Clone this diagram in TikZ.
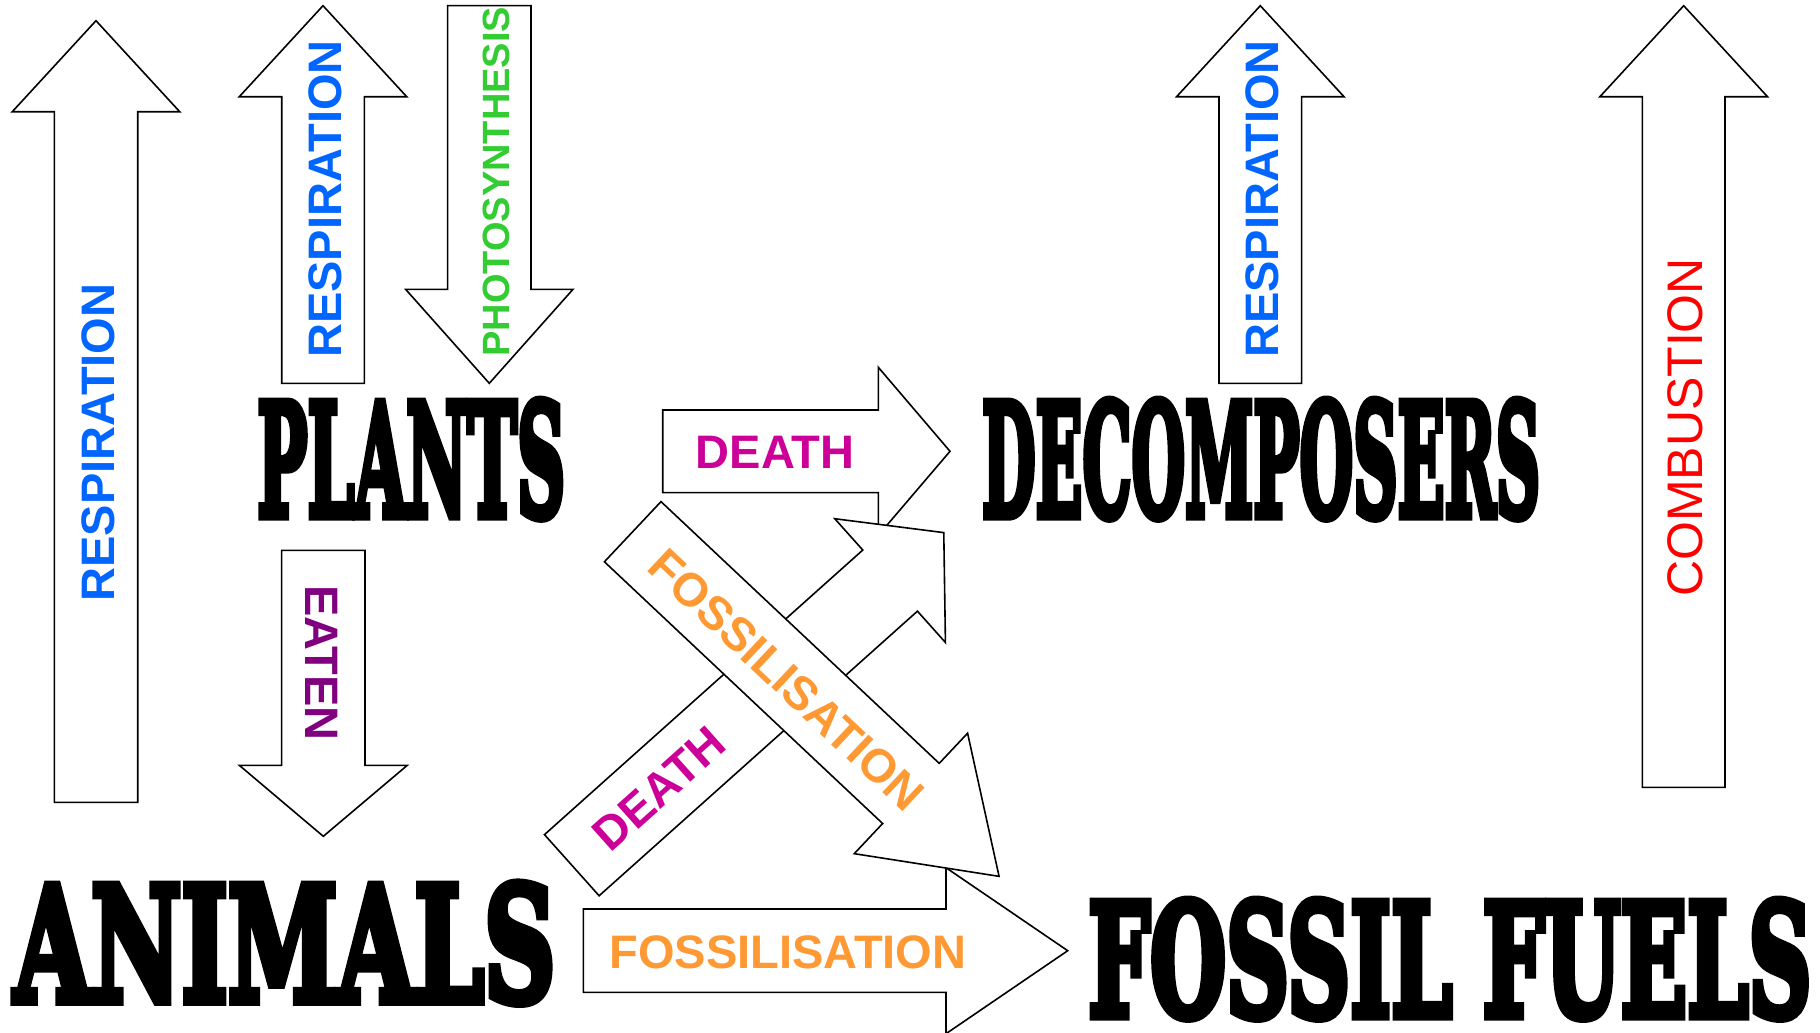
\documentclass[tikz,border=0pt]{standalone}
\usepackage{fontspec}
\setmainfont{Liberation Sans}
\newfontfamily\heavyfont{DejaVu Serif}[BoldFeatures={FakeBold=6}]

\definecolor{respblue}{RGB}{0,102,255}
\definecolor{photogreen}{RGB}{51,204,51}
\definecolor{eatenpurple}{RGB}{128,0,128}
\definecolor{deathpink}{RGB}{204,0,153}
\definecolor{fossilorange}{RGB}{255,153,51}
\definecolor{combred}{RGB}{255,0,0}

\tikzset{
  arrowbox/.style={draw=black, fill=white, line width=1.6pt, miter limit=20},
  proclabel/.style={inner sep=0pt, font=\fontsize{47}{50}\selectfont\bfseries},
  bigword/.style={inner sep=0pt, anchor=north west, font=\heavyfont\bfseries},
}

% tail, angle, shaft length, head length, half shaft, half head
\newcommand{\blockarrow}[6]{%
  \draw[arrowbox, shift={#1}, rotate=#2]
  (0,-#5) -- (#3,-#5) -- (#3,-#6) -- (#3+#4,0) -- (#3,#6) -- (#3,#5) -- (0,#5) -- cycle;
}

\begin{document}
\begin{tikzpicture}[x=1pt, y=-1pt]
  \fill[white] (0,0) rectangle (1820,1033);
  \useasboundingbox (0,0) rectangle (1820,1033);

  \blockarrow{(96,802.3)}{90}{690.6}{91}{41.7}{83.7}
  \blockarrow{(323,383.3)}{90}{286.6}{91}{41.3}{83.7}
  \blockarrow{(489.3,5.7)}{-90}{283.6}{94}{41.7}{83.7}
  \blockarrow{(323.3,550.3)}{-90}{215}{71}{41.7}{84}
  \blockarrow{(1260.3,383.3)}{90}{286.6}{91}{41.3}{83.7}
  \blockarrow{(1683.7,787.3)}{90}{690.6}{91}{41.3}{83.8}
  \blockarrow{(662.7,451.3)}{0}{215.6}{71.7}{41.3}{84}
  \blockarrow{(583.3,950.7)}{0}{362.7}{121.7}{41.7}{83}
  \blockarrow{(571.8,865.2)}{41.8}{427}{72}{41}{83}
  \blockarrow{(632.7,531.7)}{-43.25}{382}{121}{41.3}{82.7}

  \node[proclabel, respblue, rotate=90] (resp1) at (98.5,442.5) {RESPIRATION};
  \node[proclabel, respblue, rotate=90] (resp2) at (325,199) {RESPIRATION};
  \node[proclabel, photogreen, rotate=90, font=\fontsize{38}{40}\selectfont\bfseries] (photo) at (496,181.7) {PHOTOSYNTHESIS};
  \node[proclabel, eatenpurple, rotate=-90] (eaten) at (321.7,663) {EATEN};
  \node[proclabel, respblue, rotate=90] (resp3) at (1262.5,199) {RESPIRATION};
  \node[proclabel, combred, rotate=90, font=\fontsize{50}{52}\selectfont] (comb) at (1685.5,427.5) {COMBUSTION};
  \node[proclabel, deathpink] (death1) at (775,452.8) {DEATH};
  \node[proclabel, fossilorange] (fossil1) at (788,952.7) {FOSSILISATION};
  \node[proclabel, deathpink, rotate=41.8] (death2) at (659,788.8) {DEATH};
  \node[proclabel, fossilorange, rotate=-43.25] (fossil2) at (786.7,680) {FOSSILISATION};

  \node[bigword] (plants) at (257,400) {\resizebox*{308pt}{118pt}{PLANTS}};
  \node[bigword] (decomposers) at (982,400) {\resizebox*{558pt}{118pt}{DECOMPOSERS}};
  \node[bigword] (animals) at (14,883) {\resizebox*{541pt}{120pt}{ANIMALS}};
  \node[bigword] (fuels) at (1088,900) {\resizebox*{723pt}{118pt}{FOSSIL FUELS}};
\end{tikzpicture}
\end{document}
